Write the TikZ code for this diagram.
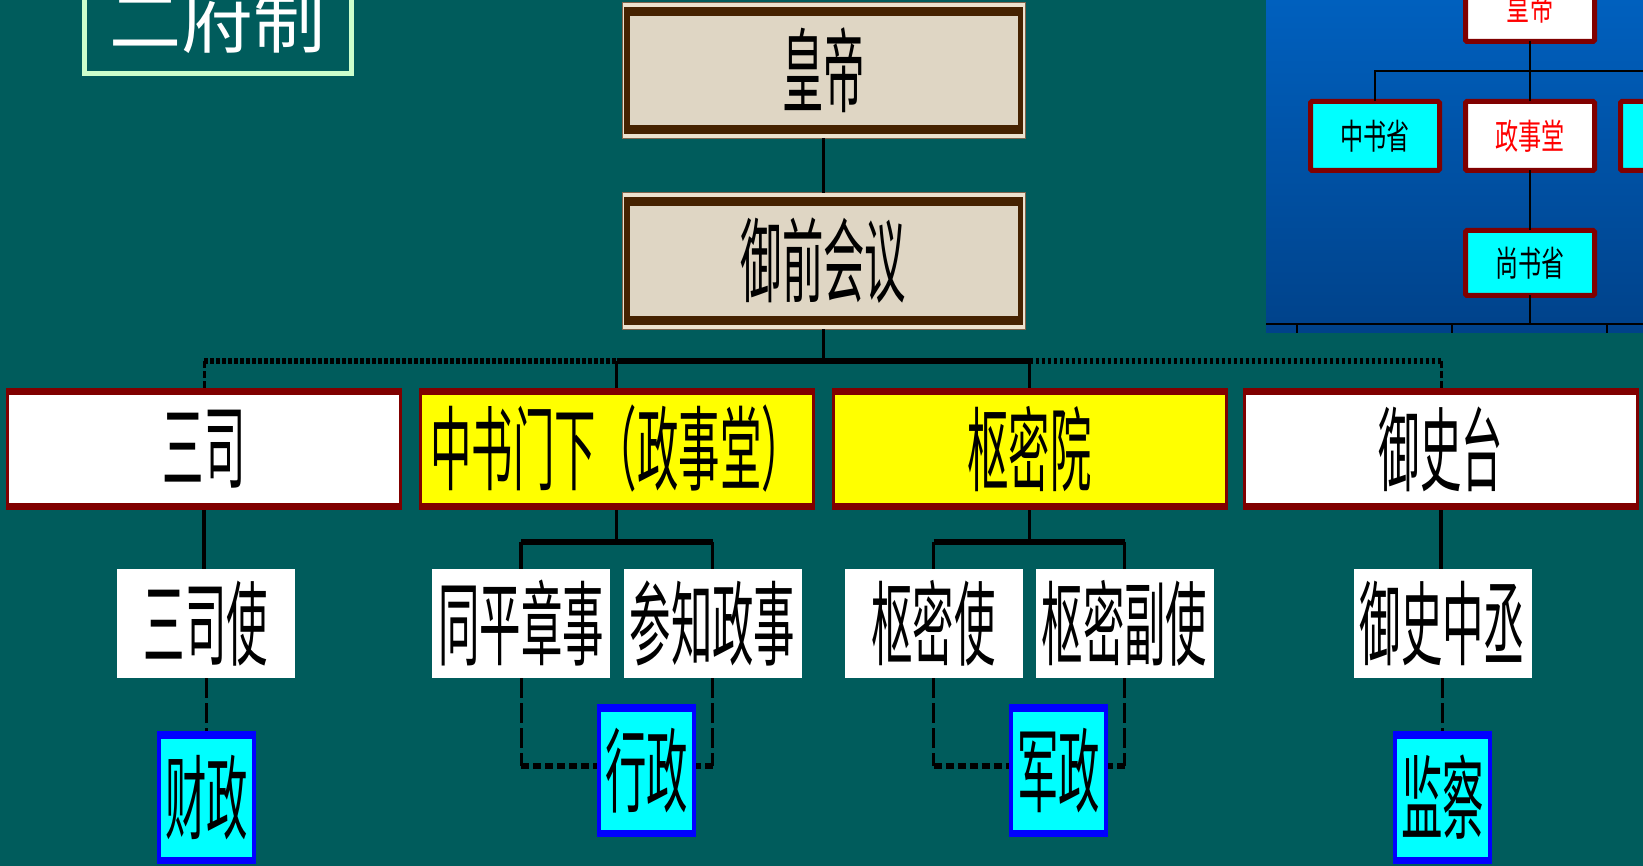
\documentclass[tikz,border=0pt]{standalone}
\usepackage{fontspec}
\usepackage{graphicx}
\newfontfamily\cjk{Noto Sans CJK SC}
\definecolor{bg}{RGB}{0,92,92}
\definecolor{dred}{RGB}{128,0,0}
\definecolor{brn}{RGB}{69,34,0}
\definecolor{tanin}{RGB}{223,214,196}
\definecolor{tanl}{RGB}{236,226,206}
\definecolor{ttl}{RGB}{204,255,204}
\definecolor{pbtop}{RGB}{0,96,190}
\definecolor{pbbot}{RGB}{0,66,138}
\definecolor{cy}{RGB}{0,255,255}
\definecolor{yl}{RGB}{255,255,0}
\definecolor{bl}{RGB}{0,0,255}
\definecolor{rd}{RGB}{255,0,0}
\definecolor{wh}{RGB}{255,255,255}
\newcommand\bigt[1]{\scalebox{0.45}[1]{\cjk\fontsize{92}{92}\selectfont #1}}
\newcommand\smt[1]{\scalebox{0.66}[1]{\cjk\fontsize{35}{35}\selectfont #1}}
\begin{document}
\begin{tikzpicture}[x=1pt,y=-1pt,
  base/.style={rectangle,inner sep=0pt,outer sep=0pt},
  topbox/.style={base,minimum width=396pt,minimum height=122pt,fill=dred,
    path picture={\fill[fill=#1] ([xshift=3pt,yshift=7pt]path picture bounding box.south west) rectangle ([xshift=-3pt,yshift=-7pt]path picture bounding box.north east);}},
  subbox/.style={base,fill=wh,minimum width=178pt,minimum height=109pt},
  fnbox/.style={base,minimum width=99pt,minimum height=133pt,fill=bl,
    path picture={\fill[fill=cy] ([xshift=4pt,yshift=7.5pt]path picture bounding box.south west) rectangle ([xshift=-4pt,yshift=-7.5pt]path picture bounding box.north east);}},
  headbox/.style={base,minimum width=403pt,minimum height=135.5pt,fill=tanl,draw=brn!70,line width=0.8pt,
    path picture={\fill[brn] ([xshift=2pt,yshift=4pt]path picture bounding box.south west) rectangle ([xshift=-2pt,yshift=-4pt]path picture bounding box.north east);
      \fill[tanin] ([xshift=7.5pt,yshift=13.5pt]path picture bounding box.south west) rectangle ([xshift=-7.5pt,yshift=-13.5pt]path picture bounding box.north east);}},
  inbox/.style={base,minimum width=129pt,minimum height=69pt,draw=dred,line width=5pt,rounded corners=1.5pt,fill=#1},
  conn/.style={line width=3.5pt,black},
  bar/.style={line width=6pt,black},
  dotbar/.style={line width=6pt,black,dash pattern=on 3.5pt off 2.5pt},
  dotlow/.style={line width=6pt,black,dash pattern=on 8pt off 4pt},
  dashv/.style={line width=3pt,black,dash pattern=on 20pt off 5pt},
  dashs/.style={line width=3pt,black,dash pattern=on 7pt off 3pt},
  thin/.style={line width=2pt,black}]
\useasboundingbox (0,0) rectangle (1643,866);
\clip (0,0) rectangle (1643,866);
\fill[bg] (0,0) rectangle (1643,866);

% inset panel
\shade[top color=pbtop,bottom color=pbbot] (1266,0) rectangle (1643,333);
\node[inbox=wh] (ihd) at (1530,7) {\textcolor{rd}{\smt{皇帝}}};
\node[inbox=cy] (izs) at (1375,136) {\smt{中书省}};
\node[inbox=wh] (izst) at (1530,136) {\textcolor{rd}{\smt{政事堂}}};
\node[inbox=cy] (ithird) at (1685,136) {};
\node[inbox=cy,minimum height=65pt] (iss) at (1530,263) {\smt{尚书省}};
\coordinate (iH) at (1530,71);
\coordinate (iB) at (1530,324);
\coordinate (iLeft) at (1266,324);
\coordinate (iRight) at (1643,324);
\coordinate (t1) at (1297,333);
\coordinate (t2) at (1452,333);
\coordinate (t3) at (1607,333);
\draw[thin] (ihd.south) -- (izst.north);
\draw[thin] (izs.north) -- (izs.north |- iH) -- (ithird.north |- iH) -- (ithird.north);
\draw[thin] (izst.south) -- (iss.north);
\draw[thin] (iss.south) -- (iB);
\draw[thin] (iLeft) -- (iRight);
\draw[thin] (t1 |- iLeft) -- (t1);
\draw[thin] (t2 |- iLeft) -- (t2);
\draw[thin] (t3 |- iLeft) -- (t3);

% title
\node[base,draw=ttl,line width=5pt,minimum width=267pt,minimum height=107pt,text=wh] (tbox) at (217.5,20) {\cjk\fontsize{72}{72}\selectfont 二府制};

% main nodes
\node[headbox] (hd) at (823.5,70.5) {\bigt{皇帝}};
\node[headbox,minimum height=136.5pt] (yq) at (823.5,261) {\bigt{御前会议}};

\node[topbox=wh] (ss) at (204,449) {\bigt{三司}};
\node[topbox=yl] (zs) at (616.5,449) {\bigt{中书门下（政事堂）}};
\node[topbox=yl] (smy) at (1029.5,449) {\bigt{枢密院}};
\node[topbox=wh] (yst) at (1441,449) {\bigt{御史台}};

\node[subbox] (sss) at (206,623.5) {\bigt{三司使}};
\node[subbox] (tp) at (521,623.5) {\bigt{同平章事}};
\node[subbox] (cz) at (712.5,623.5) {\bigt{参知政事}};
\node[subbox] (smsh) at (933.5,623.5) {\bigt{枢密使}};
\node[subbox] (smf) at (1124.5,623.5) {\bigt{枢密副使}};
\node[subbox] (yszc) at (1442.5,623.5) {\bigt{御史中丞}};

\node[fnbox] (cai) at (206.5,797.5) {\bigt{财政}};
\node[fnbox] (xz) at (646.5,770.5) {\bigt{行政}};
\node[fnbox] (jz) at (1058.5,770.5) {\bigt{军政}};
\node[fnbox] (jc) at (1442.5,797.5) {\bigt{监察}};

% connectors
\coordinate (barC) at (823.5,361);
\coordinate (zsBar) at (616.5,542);
\coordinate (smBar) at (1029.5,542);
\coordinate (lowY) at (850,766);

\draw[conn] (hd.south) -- (yq.north);
\draw[conn] (yq.south) -- (barC);
\draw[bar] (zs.north |- barC) -- (smy.north |- barC);
\draw[dotbar] (ss.north |- barC) -- (zs.north |- barC);
\draw[dotbar] (smy.north |- barC) -- (yst.north |- barC);
\draw[conn] (zs.north |- barC) -- (zs.north);
\draw[conn] (smy.north |- barC) -- (smy.north);
\draw[dashs] (ss.north |- barC) -- (ss.north);
\draw[dashs] (yst.north |- barC) -- (yst.north);

\draw[conn] (ss.south) -- (ss.south |- sss.north);
\draw[dashv] (sss.south) -- (sss.south |- cai.north);

\draw[conn] (zs.south) -- (zsBar);
\draw[bar] (tp.north |- zsBar) -- (cz.north |- zsBar);
\draw[conn] (tp.north |- zsBar) -- (tp.north);
\draw[conn] (cz.north |- zsBar) -- (cz.north);
\draw[dashv] (tp.south) -- (tp.south |- lowY);
\draw[dashv] (cz.south) -- (cz.south |- lowY);
\draw[dotlow] (tp.south |- lowY) -- (xz.west |- lowY);
\draw[dotlow] (cz.south |- lowY) -- (xz.east |- lowY);

\draw[conn] (smy.south) -- (smBar);
\draw[bar] (smsh.north |- smBar) -- (smf.north |- smBar);
\draw[conn] (smsh.north |- smBar) -- (smsh.north);
\draw[conn] (smf.north |- smBar) -- (smf.north);
\draw[dashv] (smsh.south) -- (smsh.south |- lowY);
\draw[dashv] (smf.south) -- (smf.south |- lowY);
\draw[dotlow] (smsh.south |- lowY) -- (jz.west |- lowY);
\draw[dotlow] (smf.south |- lowY) -- (jz.east |- lowY);

\draw[conn] (yst.south) -- (yst.south |- yszc.north);
\draw[dashv] (yszc.south) -- (yszc.south |- jc.north);
\end{tikzpicture}
\end{document}
